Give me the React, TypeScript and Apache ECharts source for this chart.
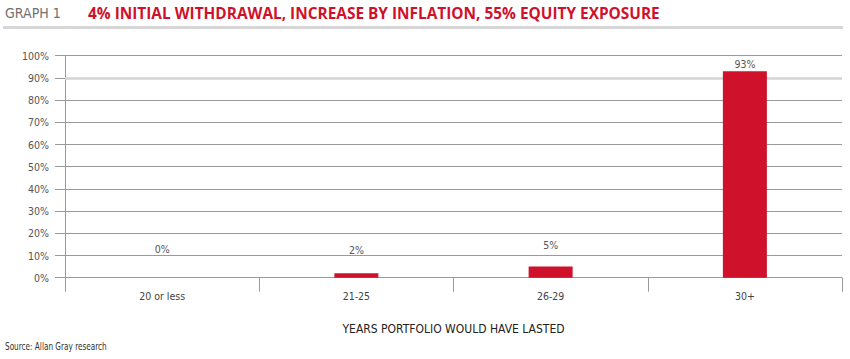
import React, { useEffect, useRef } from "react";
import * as echarts from "echarts";

const categories = ["20 or less", "21-25", "26-29", "30+"];
const values = [0, 2, 5, 93];
const yTicks = [0, 10, 20, 30, 40, 50, 60, 70, 80, 90, 100];
const titleText = "4% INITIAL WITHDRAWAL, INCREASE BY INFLATION, 55% EQUITY EXPOSURE";
const graphLabel = "GRAPH 1";
const xAxisName = "YEARS PORTFOLIO WOULD HAVE LASTED";
const sourceText = "Source: Allan Gray research";

const RED = "#D0112B";
const NARROW = "'DejaVu Sans Condensed', 'DejaVu Sans', sans-serif";
const LABEL_GAPS = [23, 18, 16, 2];

export default function App() {
  const ref = useRef<HTMLDivElement>(null);
  useEffect(() => {
    if (!ref.current) return;
    const chart = echarts.init(ref.current, undefined, { renderer: "svg" });
    const splitColors = yTicks.map((t) => (t === 90 ? "#d4d4d4" : "#9a9a9a"));
    chart.setOption({
      animation: false,
      backgroundColor: "#ffffff",
      grid: { left: 65, right: 8, top: 55.7, bottom: 81.3 },
      graphic: [
        {
          type: "text",
          x: 5,
          y: 13,
          scaleX: 0.97,
          style: {
            text: graphLabel,
            font: `14.5px 'DejaVu Sans Condensed'`,
            fill: "#707070",
            verticalAlign: "middle",
          } as any,
        },
        {
          type: "text",
          x: 88,
          y: 13,
          style: {
            text: titleText,
            font: `bold 15.4px 'Open Sans', sans-serif`,
            fill: RED,
            verticalAlign: "middle",
          } as any,
        },
        {
          type: "rect",
          shape: { x: 3, y: 26, width: 840, height: 3 },
          style: { fill: "#d6d6d6" },
        },
        {
          type: "text",
          x: 5,
          y: 346,
          scaleX: 0.74,
          style: {
            text: sourceText,
            font: `11px 'DejaVu Sans Condensed'`,
            fill: "#333",
            verticalAlign: "middle",
          } as any,
        },
      ],
      xAxis: {
        type: "category",
        data: categories,
        boundaryGap: true,
        axisLine: { show: true, lineStyle: { color: "#9a9a9a", width: 1 } },
        axisTick: { show: true, length: 14, alignWithLabel: false, lineStyle: { color: "#9a9a9a" } },
        axisLabel: { margin: 13, fontFamily: NARROW, fontSize: 10.5, color: "#444" },
        name: xAxisName,
        nameLocation: "middle",
        nameGap: 45,
        nameTextStyle: { fontFamily: NARROW, fontSize: 12, color: "#222" },
      },
      yAxis: {
        type: "value",
        min: 0,
        max: 100,
        interval: 10,
        axisLine: { show: true, lineStyle: { color: "#9a9a9a", width: 1 } },
        axisTick: { show: true, length: 10, lineStyle: { color: "#9a9a9a" } },
        axisLabel: { margin: 16, fontFamily: NARROW, fontSize: 10.5, color: "#555", formatter: "{value}%" },
        splitLine: { show: true, lineStyle: { color: splitColors, width: 1 } },
      },
      series: [
        {
          type: "bar",
          data: values.map((v, i) => ({
            value: v,
            label: { distance: LABEL_GAPS[i] },
          })),
          barWidth: 44,
          itemStyle: { color: RED },
          label: {
            show: true,
            position: "top",
            formatter: "{c}%",
            fontFamily: NARROW,
            fontSize: 10.5,
            color: "#555",
          },
          markLine: {
            silent: true,
            symbol: "none",
            label: { show: false },
            lineStyle: { color: "#d4d4d4", width: 2.5, type: "solid" },
            data: [{ yAxis: 90 }],
            z: 1,
          },
          z: 3,
        },
      ],
    });
    return () => chart.dispose();
  }, []);
  return <div ref={ref} style={{ width: 850, height: 359, position: "absolute", left: 0, top: 0 }} />;
}
